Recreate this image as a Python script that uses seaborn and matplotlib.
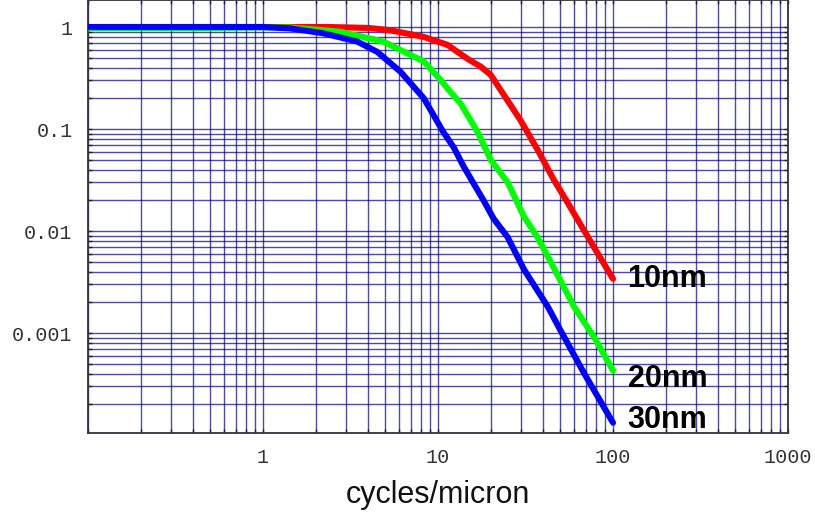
import numpy as np
import pandas as pd
import seaborn as sns
from matplotlib import pyplot as plt
from matplotlib.ticker import FixedLocator, FixedFormatter, LogLocator, NullFormatter

# valores (frecuencia en cycles/micron, respuesta)
freq_10nm = [0.1, 0.5, 1, 2.4, 4, 5.35, 8.3, 11.3, 14.7, 17.5, 20, 29.5, 37, 45.8, 55, 63, 72, 78, 100]
resp_10nm = [1.0, 1.0, 1.0, 1.0, 0.98, 0.93, 0.80, 0.67, 0.49, 0.41, 0.34, 0.123, 0.063, 0.032,
             0.019, 0.0128, 0.0087, 0.0069, 0.0034]

freq_20nm = [0.1, 0.5, 1, 1.43, 2.76, 4.87, 8.3, 10.4, 11.8, 13.4, 16.8, 20, 25, 31, 37, 44, 60, 78, 100]
resp_20nm = [0.98, 0.98, 0.99, 0.99, 0.90, 0.72, 0.46, 0.30, 0.23, 0.18, 0.094, 0.05, 0.03, 0.0138,
             0.0087, 0.005, 0.0018, 0.00091, 0.00043]

freq_30nm = [0.1, 0.44, 1, 1.43, 2.2, 3.46, 4.5, 6.1, 8.3, 10.7, 12.3, 14, 18.2, 20.8, 25, 31, 42.5, 50, 68, 100]
resp_30nm = [1.0, 1.0, 1.0, 0.97, 0.87, 0.72, 0.57, 0.365, 0.2, 0.094, 0.066, 0.043, 0.02, 0.0132,
             0.0087, 0.0042, 0.0018, 0.00107, 0.00041, 0.000132]

labels = ['10nm', '20nm', '30nm']
colors = ['#ff0000', '#00ff00', '#0000ff']

x_ticks = [0.1, 1, 10, 100, 1000]
x_ticklabels = ['', '1', '10', '100', '1000']
y_ticks = [1e-4, 1e-3, 1e-2, 0.1, 1]
y_ticklabels = ['', '0.001', '0.01', '0.1', '1']

# se arma el DataFrame en formato largo
df = pd.concat([
    pd.DataFrame({'freq': freq_10nm, 'resp': resp_10nm, 'size': '10nm'}),
    pd.DataFrame({'freq': freq_20nm, 'resp': resp_20nm, 'size': '20nm'}),
    pd.DataFrame({'freq': freq_30nm, 'resp': resp_30nm, 'size': '30nm'}),
], ignore_index=True)

sns.set_style('ticks')
plt.rcParams['font.family'] = ['Liberation Sans', 'DejaVu Sans']

fig = plt.figure(figsize=(8.15, 5.14), dpi=100)
ax = fig.add_axes([88 / 815, 81 / 514, 700 / 815, 433 / 514])

sns.lineplot(data=df, x='freq', y='resp', hue='size', hue_order=labels,
             palette=dict(zip(labels, colors)), errorbar=None, sort=True,
             linewidth=4.4, legend=False, ax=ax, zorder=3,
             solid_capstyle='round', solid_joinstyle='round')

ax.set_xscale('log')
ax.set_yscale('log')
ax.set_xlim(0.1, 1000)
ax.set_ylim(10 ** -3.98, 10 ** 0.265)

ax.xaxis.set_major_locator(FixedLocator(x_ticks))
ax.xaxis.set_major_formatter(FixedFormatter(x_ticklabels))
ax.yaxis.set_major_locator(FixedLocator(y_ticks))
ax.yaxis.set_major_formatter(FixedFormatter(y_ticklabels))
for axis in (ax.xaxis, ax.yaxis):
    axis.set_minor_locator(LogLocator(base=10, subs=np.arange(2, 10), numticks=100))
    axis.set_minor_formatter(NullFormatter())

ax.grid(True, which='both', color='#00007a', alpha=0.7, linewidth=1.0)
ax.set_axisbelow(True)

ax.tick_params(which='both', direction='in', top=True, right=True,
               length=3, width=1, color='#222222')
ax.tick_params(axis='x', pad=11)
ax.tick_params(axis='y', pad=11)
for lab in ax.get_xticklabels() + ax.get_yticklabels():
    lab.set_family('Liberation Mono')
    lab.set_fontsize(14.5)
    lab.set_color('#333333')

for s in ax.spines.values():
    s.set_color('#333340')
    s.set_linewidth(1.3)

ax.set_xlabel('cycles/micron', fontsize=22, color='#111111', labelpad=9)
ax.set_ylabel('')

# etiquetas al final de cada curva
ends = [resp_10nm[-1], resp_20nm[-1], resp_30nm[-1]]
offsets = [0, -6.5, 2]
for lab, yend, off in zip(labels, ends, offsets):
    ax.annotate(lab, xy=(100, yend), xytext=(10.5, off), textcoords='offset points',
                fontsize=22, fontweight='bold', va='center', ha='left',
                color='black', annotation_clip=False)

fig.savefig('out.png', dpi=100)
